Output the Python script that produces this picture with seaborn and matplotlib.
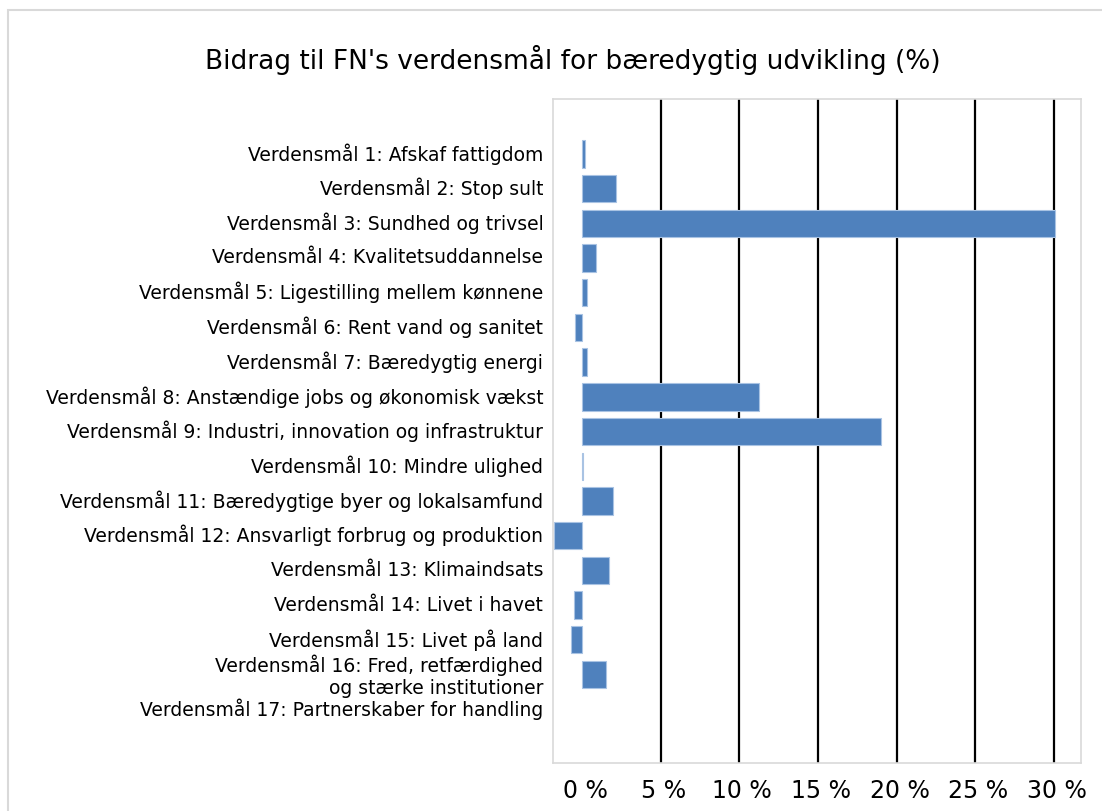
import numpy as np
import pandas as pd
import seaborn as sns
import matplotlib.pyplot as plt
import matplotlib.transforms as mtransforms
from matplotlib.patches import Rectangle

# Bidrag til FN's verdensmaal (%)
goals = [
    'Verdensmål 1: Afskaf fattigdom',
    'Verdensmål 2: Stop sult',
    'Verdensmål 3: Sundhed og trivsel',
    'Verdensmål 4: Kvalitetsuddannelse',
    'Verdensmål 5: Ligestilling mellem kønnene',
    'Verdensmål 6: Rent vand og sanitet',
    'Verdensmål 7: Bæredygtig energi',
    'Verdensmål 8: Anstændige jobs og økonomisk vækst',
    'Verdensmål 9: Industri, innovation og infrastruktur',
    'Verdensmål 10: Mindre ulighed',
    'Verdensmål 11: Bæredygtige byer og lokalsamfund',
    'Verdensmål 12: Ansvarligt forbrug og produktion',
    'Verdensmål 13: Klimaindsats',
    'Verdensmål 14: Livet i havet',
    'Verdensmål 15: Livet på land',
    'Verdensmål 16: Fred, retfærdighed\nog stærke institutioner',
    'Verdensmål 17: Partnerskaber for handling',
]
share = [0.19, 2.14, 30.07, 0.87, 0.32, -0.42, 0.34, 11.25, 19.0, 0.05,
         1.96, -1.77, 1.74, -0.49, -0.70, 1.53, 0.0]
xticks = [0, 5, 10, 15, 20, 25, 30]

df = pd.DataFrame({'goal': goals, 'share': share})

sns.set_style('white')
plt.rcParams['font.family'] = ['DejaVu Sans']
plt.rcParams['text.color'] = 'black'
plt.rcParams['xtick.color'] = 'black'
plt.rcParams['ytick.color'] = 'black'

fig = plt.figure(figsize=(11.02, 8.12), dpi=100)
ax = fig.add_axes([553 / 1102, 48 / 812, 528 / 1102, 664 / 812])

sns.barplot(data=df, x='share', y='goal', order=goals, orient='h', color='#4F81BD',
            saturation=1, width=0.79, edgecolor='#a9c3e3', linewidth=0.8, ax=ax)
# hide empty bars (no contribution)
for p in ax.patches:
    if p.get_width() == 0:
        p.set_visible(False)

ax.set_xlim(-1.84, 31.72)
ax.set_ylim(16 + 1.55, -1.58)
ax.set_xticks(xticks)
ax.set_xticklabels([f'{t} %' for t in xticks], fontsize=17)
ax.tick_params(axis='x', length=0, pad=11, colors='black')
ax.tick_params(axis='y', length=0, pad=7, labelsize=13.5, colors='black')
ax.set_xlabel('')
ax.set_ylabel('')

# labels sit a little above the bar centres in the original
shift = mtransforms.ScaledTranslation(0, 3 / 100, fig.dpi_scale_trans)
for lbl in ax.get_yticklabels():
    lbl.set_transform(lbl.get_transform() + shift)
shift_x = mtransforms.ScaledTranslation(3 / 100, 0, fig.dpi_scale_trans)
for lbl in ax.get_xticklabels():
    lbl.set_transform(lbl.get_transform() + shift_x)

ax.set_axisbelow(True)
ax.xaxis.grid(True, color='black', linewidth=1.6)
ax.get_xgridlines()[0].set_visible(False)
for s in ax.spines.values():
    s.set_visible(True)
    s.set_color('#d9d9d9')
    s.set_linewidth(1.2)

# outer chart frame
fig.patches.append(Rectangle((8 / 1102, -0.1), 1.2, (812 - 11) / 812 + 0.1,
                             transform=fig.transFigure, fill=False,
                             edgecolor='#d9d9d9', linewidth=1.5))

fig.text(573 / 1102, 1 - 60 / 812, "Bidrag til FN's verdensmål for bæredygtig udvikling (%)",
         ha='center', va='center', fontsize=19, color='black')

plt.savefig('out.png', dpi=100)
